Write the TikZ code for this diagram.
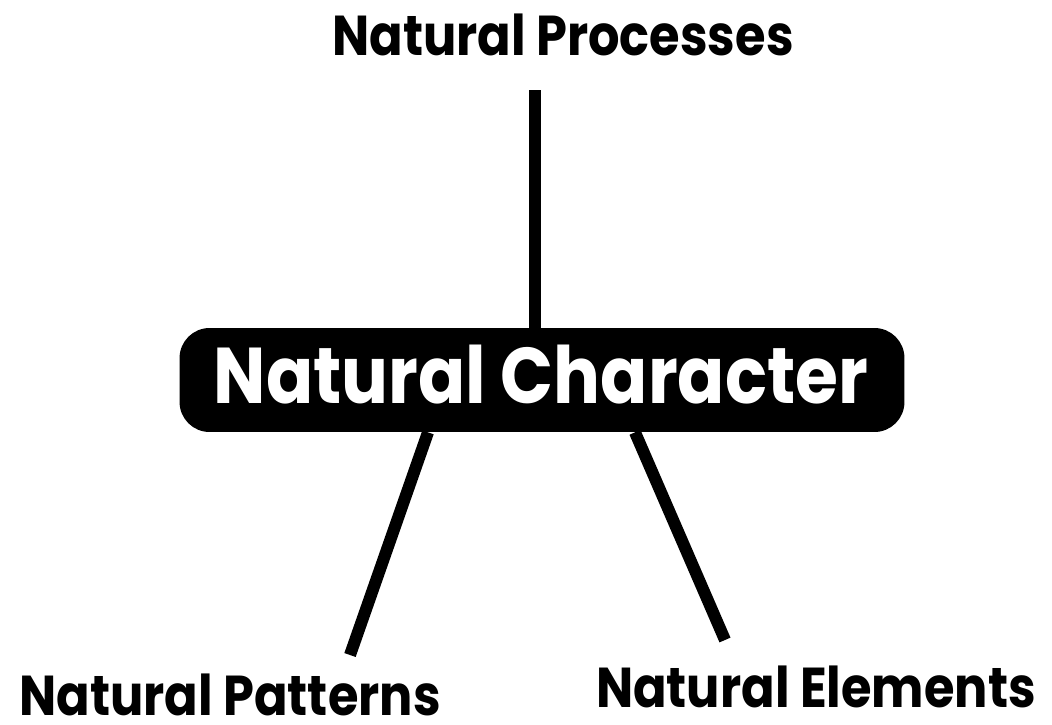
\documentclass[tikz,border=0pt]{standalone}
\usepackage{fontspec}
\setmainfont{Poppins}[FakeStretch=0.88]
\usetikzlibrary{positioning}

\begin{document}
\begin{tikzpicture}[x=0.02cm, y=-0.02cm,
   label/.style={font=\fontsize{32}{36}\selectfont\bfseries, inner sep=0pt, anchor=base},
   core/.style={fill=black, rounded corners=0.6cm, minimum width=14.5cm, minimum height=2.08cm,
                inner sep=0pt},
   branch/.style={line width=0.24cm, black}]

 \useasboundingbox (0,0) rectangle (1052,724);

 \node[core] (char) at (542,380) {};
 \node[label, text=white, font=\fontsize{45}{50}\selectfont\bfseries] (chartext) at (541,403) {Natural Character};

 \node[label] (proc) at (563,55) {Natural Processes};
 \node[label] (patt) at (230,715) {Natural Patterns};
 \node[label] (elem) at (816,707) {Natural Elements};

 % free ends of the branches
 \coordinate (procend) at (535,90);
 \coordinate (pattend) at (350,655);
 \coordinate (elemend) at (725,640);

 \draw[branch] (procend) -- (procend |- char.north);
 \draw[branch] (char.south -| 428,0) -- (pattend);
 \draw[branch] (char.south -| 635,0) -- (elemend);
\end{tikzpicture}
\end{document}
